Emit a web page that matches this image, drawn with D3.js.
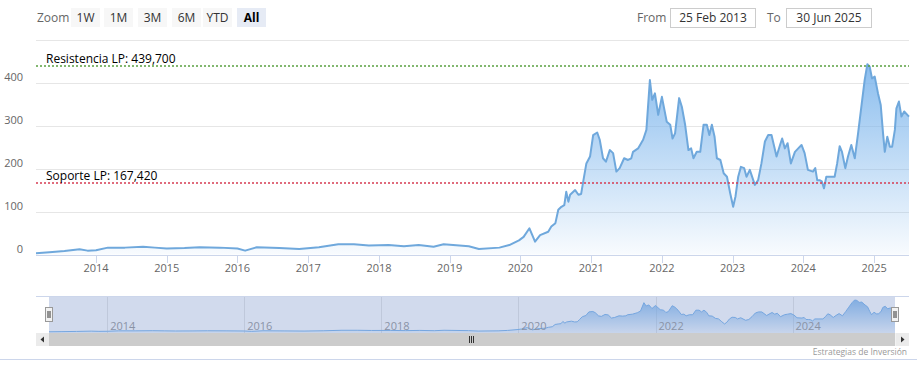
<!DOCTYPE html>
<html>
<head>
<meta charset="utf-8">
<script src="https://cdn.jsdelivr.net/npm/d3@7"></script>
<style>
  body { margin: 0; background: #fff; }
  svg { font-family: "Open Sans", "DejaVu Sans", sans-serif; display: block; }
</style>
</head>
<body>
<div id="chart"></div>
<script>
// price series
var dates = ["2013-02-25","2013-05-05","2013-07-22","2013-10-08","2013-11-18","2014-01-01","2014-03-03","2014-05-30",
  "2014-09-01","2014-11-01","2015-01-01","2015-04-03","2015-06-20","2015-10-01","2016-01-01","2016-02-10","2016-04-10",
  "2016-08-05","2016-11-15","2017-02-25","2017-06-05","2017-08-25","2017-11-10","2018-02-20","2018-05-10","2018-07-25",
  "2018-10-10","2018-12-01","2019-04-10","2019-06-01","2019-09-15","2019-11-05","2019-12-25","2020-01-18","2020-02-17",
  "2020-03-17","2020-04-12","2020-05-24","2020-06-09","2020-06-30","2020-07-15","2020-07-31","2020-08-15","2020-08-25",
  "2020-09-05","2020-09-14","2020-10-10","2020-10-27","2020-11-10","2020-11-22","2020-12-07","2020-12-26","2021-01-11",
  "2021-02-01","2021-02-14","2021-03-03","2021-03-18","2021-04-07","2021-04-24","2021-05-11","2021-05-28","2021-06-20",
  "2021-07-10","2021-07-27","2021-08-05","2021-08-31","2021-09-26","2021-10-13","2021-10-31","2021-11-12","2021-11-26",
  "2021-12-13","2022-01-01","2022-01-26","2022-02-13","2022-02-25","2022-03-10","2022-03-31","2022-04-14","2022-05-01",
  "2022-05-18","2022-06-01","2022-06-13","2022-06-30","2022-07-18","2022-08-04","2022-08-21","2022-09-03","2022-09-16",
  "2022-09-30","2022-10-12","2022-10-30","2022-11-16","2022-12-03","2022-12-20","2023-01-04","2023-01-16","2023-01-30",
  "2023-02-13","2023-03-02","2023-03-14","2023-03-31","2023-04-26","2023-05-13","2023-05-30","2023-06-17","2023-07-04",
  "2023-07-21","2023-08-16","2023-09-03","2023-09-14","2023-09-28","2023-10-12","2023-10-29","2023-11-19","2023-12-06",
  "2023-12-23","2024-01-08","2024-01-25","2024-02-20","2024-03-03","2024-03-13","2024-03-25","2024-04-06","2024-04-17",
  "2024-04-29","2024-05-16","2024-06-11","2024-06-24","2024-07-07","2024-07-19","2024-08-05","2024-08-19","2024-09-05",
  "2024-09-23","2024-10-10","2024-10-27","2024-11-13","2024-11-27","2024-12-09","2024-12-21","2025-01-04","2025-01-21",
  "2025-02-04","2025-02-16","2025-02-25","2025-03-10","2025-03-23","2025-04-04","2025-04-18","2025-04-26","2025-05-09",
  "2025-05-22","2025-06-05","2025-06-30"];
var prices = [3,5,8,12,9,10,16,16,
  18,16,14,15,17,16,14,9,17,
  15,13,17,24,24,21,22,19,22,
  18,24,19,13,16,22,33,41,61,
  30,45,53,65,73,104,111,115,146,
  123,139,150,139,141,173,212,228,278,
  284,267,224,216,243,236,193,201,224,
  220,224,239,247,267,290,406,360,375,
  325,367,309,302,270,282,364,344,302,
  243,247,224,239,239,302,302,278,302,
  274,224,220,189,181,142,111,135,181,
  204,201,181,197,162,173,212,263,278,
  278,228,255,270,247,259,212,239,247,
  255,236,197,193,201,173,173,170,154,
  181,181,181,212,252,239,201,228,255,
  224,282,344,406,443,437,410,414,375,
  348,282,239,274,251,251,290,340,356,
  321,333,321];

var yTicks = [0, 100, 200, 300, 400, 500];
var yLabels = [0, 100, 200, 300, 400];
var xYears = [2014, 2015, 2016, 2017, 2018, 2019, 2020, 2021, 2022, 2023, 2024, 2025];
var navYears = [2014, 2016, 2018, 2020, 2022, 2024];

var resistance = 439.7, resistanceLabel = "Resistencia LP: 439,700";
var support = 167.42, supportLabel = "Soporte LP: 167,420";

var zoomButtons = ["1W", "1M", "3M", "6M", "YTD", "All"];
var fromDate = "25 Feb 2013", toDate = "30 Jun 2025";
var credit = "Estrategias de Inversión";

var parse = d3.timeParse("%Y-%m-%d");
var data = dates.map(function(d, i) { return {date: parse(d), value: prices[i]}; });

var width = 917, height = 376;
var svg = d3.select("#chart").append("svg")
    .attr("width", width)
    .attr("height", height);

var defs = svg.append("defs");
var grad = defs.append("linearGradient")
    .attr("id", "areaFill")
    .attr("gradientUnits", "userSpaceOnUse")
    .attr("x1", 0).attr("x2", 0).attr("y1", 62).attr("y2", 255);
grad.append("stop").attr("offset", 0).attr("stop-color", "#7cb5ec").attr("stop-opacity", 0.9);
grad.append("stop").attr("offset", 1).attr("stop-color", "#7cb5ec").attr("stop-opacity", 0.05);

var navGrad = defs.append("linearGradient")
    .attr("id", "navFill")
    .attr("gradientUnits", "userSpaceOnUse")
    .attr("x1", 0).attr("x2", 0).attr("y1", 298).attr("y2", 333);
navGrad.append("stop").attr("offset", 0).attr("stop-color", "#7cb5ec").attr("stop-opacity", 0.9);
navGrad.append("stop").attr("offset", 1).attr("stop-color", "#7cb5ec").attr("stop-opacity", 0.1);

// ---------- range selector ----------
var header = svg.append("g");
header.append("text")
    .attr("x", 37).attr("y", 22)
    .attr("fill", "#666").attr("font-size", 12)
    .text("Zoom");

var btnX = [71, 104, 138, 172, 203, 237];
zoomButtons.forEach(function(b, i) {
    var sel = b == "All";
    header.append("rect")
        .attr("x", btnX[i]).attr("y", 8)
        .attr("width", 29).attr("height", 19)
        .attr("fill", sel ? "#e6ebf5" : "#f7f7f7");
    header.append("text")
        .attr("x", btnX[i] + 14.5).attr("y", 22)
        .attr("text-anchor", "middle")
        .attr("font-size", 12)
        .attr("font-weight", sel ? "bold" : "normal")
        .attr("fill", sel ? "#000" : "#333")
        .text(b);
});

header.append("text").attr("x", 637).attr("y", 22).attr("fill", "#666").attr("font-size", 12).text("From");
header.append("rect").attr("x", 670.5).attr("y", 8.5).attr("width", 85).attr("height", 19)
    .attr("fill", "#fff").attr("stroke", "#ccc");
header.append("text").attr("x", 713).attr("y", 22).attr("text-anchor", "middle").attr("fill", "#333").attr("font-size", 12).text(fromDate);
header.append("text").attr("x", 767).attr("y", 22).attr("fill", "#666").attr("font-size", 12).text("To");
header.append("rect").attr("x", 786.5).attr("y", 8.5).attr("width", 85).attr("height", 19)
    .attr("fill", "#fff").attr("stroke", "#ccc");
header.append("text").attr("x", 829).attr("y", 22).attr("text-anchor", "middle").attr("fill", "#333").attr("font-size", 12).text(toDate);

// ---------- main plot ----------
var x = d3.scaleTime()
    .domain([parse("2013-02-25"), parse("2025-06-30")])
    .range([36, 909]);
var y = d3.scaleLinear()
    .domain([0, 500])
    .range([254.5, 39.7]);

var plot = svg.append("g");

plot.selectAll(".grid")
    .data(yTicks)
    .join("line")
    .attr("x1", 36).attr("x2", 909)
    .attr("y1", d => Math.round(y(d)) + 0.5)
    .attr("y2", d => Math.round(y(d)) + 0.5)
    .attr("stroke", "#e6e6e6");

plot.selectAll(".ylab")
    .data(yLabels)
    .join("text")
    .attr("x", 23).attr("y", d => y(d) - 1.5)
    .attr("text-anchor", "end")
    .attr("font-size", 11).attr("fill", "#666")
    .text(d => d);

var area = d3.area()
    .x(d => x(d.date))
    .y0(y(0))
    .y1(d => y(d.value));
var line = d3.line()
    .x(d => x(d.date))
    .y(d => y(d.value));

plot.append("path").datum(data)
    .attr("d", area)
    .attr("fill", "url(#areaFill)");
plot.append("path").datum(data)
    .attr("d", line)
    .attr("fill", "none")
    .attr("stroke", "#6fa8dc")
    .attr("stroke-width", 2)
    .attr("stroke-linejoin", "round");

// x axis
var xTickDates = xYears.map(function(yr) { return new Date(yr, 0, 1); });
var xAxis = plot.append("g");
xAxis.append("line")
    .attr("x1", 36).attr("x2", 909).attr("y1", 255.5).attr("y2", 255.5)
    .attr("stroke", "#ccd6eb");
xAxis.selectAll(".tick")
    .data(xTickDates)
    .join("line")
    .attr("x1", d => Math.round(x(d)) + 0.5).attr("x2", d => Math.round(x(d)) + 0.5)
    .attr("y1", 255).attr("y2", 263)
    .attr("stroke", "#ccd6eb");
xAxis.selectAll(".xlab")
    .data(xTickDates)
    .join("text")
    .attr("x", d => x(d)).attr("y", 272)
    .attr("text-anchor", "middle")
    .attr("font-size", 11).attr("fill", "#666")
    .text(d => d.getFullYear());

// support / resistance lines
[[resistance, resistanceLabel, "#5aa040"], [support, supportLabel, "#d63b52"]].forEach(function(p) {
    var ly = Math.round(y(p[0]));
    plot.append("line")
        .attr("x1", 36).attr("x2", 909)
        .attr("y1", ly).attr("y2", ly)
        .attr("stroke", p[2]).attr("stroke-width", 1.5)
        .attr("stroke-dasharray", "2,2");
    plot.append("text")
        .attr("x", 46).attr("y", ly - 3)
        .attr("font-size", 12).attr("fill", "#000")
        .text(p[1]);
});

// ---------- navigator ----------
var nx = d3.scaleTime()
    .domain(x.domain())
    .range([49, 895]);
var ny = d3.scaleLinear()
    .domain([0, d3.max(prices)])
    .range([332, 300]);

var nav = svg.append("g");
nav.selectAll(".ngrid")
    .data(navYears)
    .join("line")
    .attr("x1", d => Math.round(nx(new Date(d, 0, 1))) + 0.5)
    .attr("x2", d => Math.round(nx(new Date(d, 0, 1))) + 0.5)
    .attr("y1", 297).attr("y2", 333)
    .attr("stroke", "#e6e6e6");

nav.append("path").datum(data)
    .attr("d", d3.area().x(d => nx(d.date)).y0(333).y1(d => ny(d.value)))
    .attr("fill", "url(#navFill)");
nav.append("path").datum(data)
    .attr("d", d3.line().x(d => nx(d.date)).y(d => ny(d.value)))
    .attr("fill", "none").attr("stroke", "#7cb5ec").attr("stroke-width", 1);

nav.selectAll(".nlab")
    .data(navYears)
    .join("text")
    .attr("x", d => nx(new Date(d, 0, 1)) + 3).attr("y", 330)
    .attr("font-size", 11).attr("fill", "#999")
    .text(d => d);

// selection mask (everything selected)
nav.append("rect")
    .attr("x", 49).attr("y", 297)
    .attr("width", 846).attr("height", 36)
    .attr("fill", "rgba(102,133,194,0.3)");
nav.append("line")
    .attr("x1", 36).attr("x2", 909).attr("y1", 296.5).attr("y2", 296.5)
    .attr("stroke", "#ccd6eb");

// handles
[49, 895].forEach(function(hx) {
    var h = nav.append("g").attr("transform", "translate(" + (hx - 4) + ",307)");
    h.append("rect").attr("x", 0.5).attr("y", 0.5).attr("width", 7).attr("height", 14)
        .attr("fill", "#f2f2f2").attr("stroke", "#999");
    h.append("line").attr("x1", 3).attr("x2", 3).attr("y1", 4).attr("y2", 11).attr("stroke", "#333");
    h.append("line").attr("x1", 5).attr("x2", 5).attr("y1", 4).attr("y2", 11).attr("stroke", "#333");
});

// scrollbar
var sb = svg.append("g");
sb.append("rect").attr("x", 36).attr("y", 333).attr("width", 873).attr("height", 13).attr("fill", "#f2f2f2");
sb.append("rect").attr("x", 49).attr("y", 333).attr("width", 846).attr("height", 13).attr("fill", "#cccccc");
sb.append("rect").attr("x", 36).attr("y", 333).attr("width", 13).attr("height", 13).attr("fill", "#ebebeb");
sb.append("rect").attr("x", 896).attr("y", 333).attr("width", 13).attr("height", 13).attr("fill", "#ebebeb");
sb.append("path").attr("d", "M44,336.5 L40.5,339.5 L44,342.5 Z").attr("fill", "#333");
sb.append("path").attr("d", "M901,336.5 L904.5,339.5 L901,342.5 Z").attr("fill", "#333");
[469.5, 471.5, 473.5].forEach(function(gx) {
    sb.append("line").attr("x1", gx).attr("x2", gx).attr("y1", 336).attr("y2", 343)
        .attr("stroke", "#333").attr("stroke-width", 1);
});

// credits + bottom border
svg.append("text")
    .attr("x", 907).attr("y", 355)
    .attr("text-anchor", "end")
    .attr("font-size", 8.5).attr("fill", "#999")
    .text(credit);
svg.append("line")
    .attr("x1", 0).attr("x2", 917).attr("y1", 359.5).attr("y2", 359.5)
    .attr("stroke", "#ccd6eb");
</script>
</body>
</html>
